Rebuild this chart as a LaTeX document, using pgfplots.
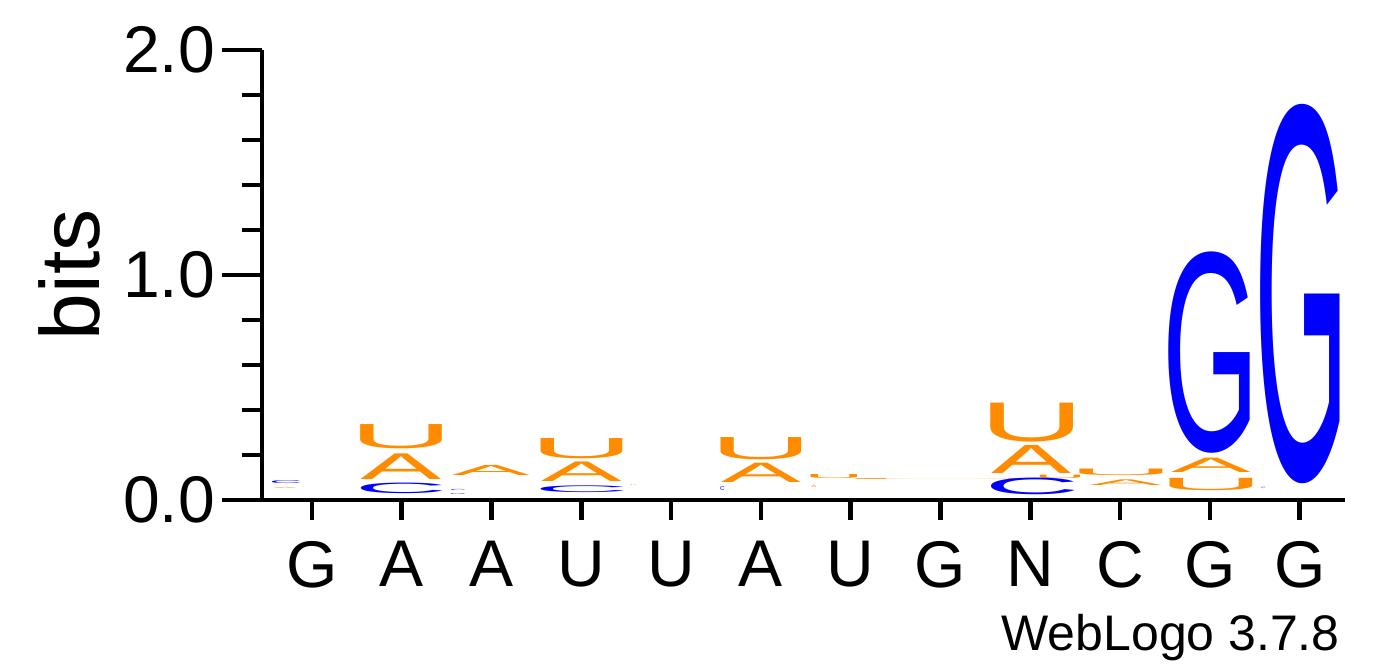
\documentclass[border=0pt]{standalone}
\usepackage{pgfplots}
\usepackage{pgfplotstable}
\pgfplotsset{compat=1.18}
\usepackage{fontspec}
\setmainfont{Liberation Sans}
\definecolor{logoorange}{RGB}{255,140,0}
\definecolor{logoblue}{RGB}{0,0,255}
% ink-width / advance-width ratios of the glyphs
\def\lrA{1.0}\def\lrC{0.86}\def\lrG{0.846}\def\lrU{0.78}
\newcommand\logoletter[3]{%
  \pgfmathsetmacro\lw{#2*0.5/\csname lr#1\endcsname}%
  \pgfmathsetmacro\lh{#3*112.5}%
  \resizebox*{\lw pt}{\lh pt}{#1}}

% x = position, y = bottom of letter (bits), h = height (bits), w = ink width (px), l = letter
\pgfplotstableread{
x y h w l
0.700 0.051 0.005 24 A
1.991 0.093 0.114 81 A
1.991 0.225 0.108 81 U
2.993 0.107 0.045 78 A
4.001 0.081 0.087 81 A
4.001 0.181 0.090 81 U
4.580 0.060 0.004 5 U
6.000 0.077 0.086 80 A
6.000 0.178 0.099 80 U
6.813 0.093 0.018 46 U
6.590 0.056 0.011 5 A
8.082 0.087 0.004 184 U
9.018 0.116 0.125 80 A
9.018 0.259 0.173 82 U
9.330 0.093 0.015 40 U
10.009 0.109 0.029 82 U
10.065 0.064 0.025 72 A
11.011 0.041 0.055 82 U
11.011 0.121 0.064 80 A
}\orangetab
\pgfplotstableread{
x y h w l
0.710 0.071 0.013 28 C
1.991 0.027 0.047 80 C
2.626 0.020 0.004 14 G
2.626 0.042 0.005 14 C
4.001 0.034 0.030 82 C
5.571 0.040 0.018 4 C
9.018 0.025 0.074 82 C
11.011 0.209 0.895 82 G
12.024 0.074 1.686 80 G
11.596 0.048 0.006 4 C
}\bluetab

\pgfplotsset{logoletters/.style={
  only marks, mark=*, mark size=0pt, draw=none, fill=none,
  visualization depends on={\thisrow{h}\as\hh},
  visualization depends on={\thisrow{w}\as\ww},
  point meta=explicit symbolic,
  nodes near coords={\logoletter{\pgfplotspointmeta}{\ww}{\hh}},
  every node near coord/.style={anchor=south, inner sep=0pt, outer sep=0pt, text=#1}}}

\begin{document}
\begin{tikzpicture}
\begin{axis}[
  x=44.9pt, y=112.5pt,
  xmin=0.443, xmax=12.5, ymin=0, ymax=2,
  axis x line=bottom, axis y line=left,
  axis line style={line width=2.4pt, -},
  clip=false,
  tick align=outside,
  major tick length=20pt, minor tick length=10pt,
  ytick={0,1,2}, yticklabels={0.0,1.0,2.0},
  minor ytick={0.2,0.4,0.6,0.8,1.2,1.4,1.6,1.8},
  xtick={1,...,12},
  xticklabels={G,A,A,U,U,A,U,G,N,C,G,G},
  minor xtick={1,...,12},
  major x tick style={draw=none},
  tick style={line width=2.3pt, black},
  /pgf/number format/assume math mode=true,
  tick label style={font=\fontsize{33}{36}\selectfont},
  xticklabel style={yshift=3pt},
  ylabel={bits},
  ylabel style={font=\fontsize{42}{46}\selectfont, at={(axis description cs:-0.1773,0.5)}, anchor=center},
]
\addplot[logoletters=logoorange] table[x=x, y=y, meta=l] {\orangetab};
\addplot[logoletters=logoblue] table[x=x, y=y, meta=l] {\bluetab};
\node[anchor=base east, inner sep=0pt, font=\fontsize{25}{28}\selectfont] at (axis cs:12.45,-0.667) {WebLogo 3.7.8};
\path (axis cs:-2.474,-0.742) rectangle (axis cs:13.027,2.222);
\end{axis}
\end{tikzpicture}
\end{document}
